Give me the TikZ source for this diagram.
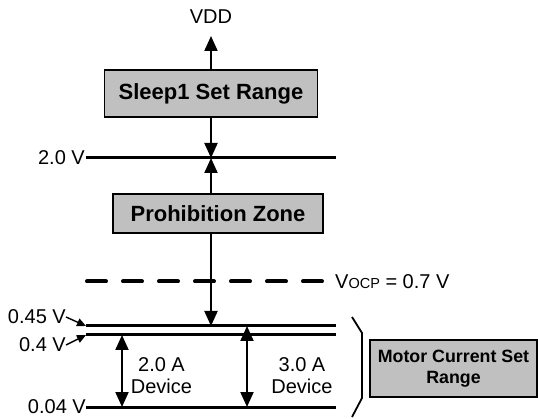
\documentclass[tikz,border=0pt]{standalone}
\usepackage{fontspec}
\setmainfont{Liberation Sans}
\usetikzlibrary{arrows.meta}
\definecolor{boxgray}{RGB}{192,192,192}
\begin{document}
\begin{tikzpicture}[x=1pt,y=-1pt,
  txt/.style={font=\fontsize{20}{22}\selectfont, inner sep=0pt},
  box/.style={draw, line width=1.6pt, fill=boxgray, inner sep=0pt,
    font=\fontsize{22}{24}\selectfont\bfseries},
  lvl/.style={line width=3pt},
  arr/.style={line width=2pt, -{Triangle[length=15pt,width=13pt]}},
  darr/.style={line width=2pt, {Triangle[length=15pt,width=13pt]}-{Triangle[length=15pt,width=13pt]}},
  sarr/.style={line width=1.4pt, -{Triangle[length=9pt,width=8pt]}},
  dashlvl/.style={line width=4pt, line cap=round, dash pattern=on 19pt off 17pt}
]
\useasboundingbox (0,0) rectangle (538,419);

% boxes
\node[box, minimum width=213pt, minimum height=47pt] (sleep) at (211,93.5) {Sleep1 Set Range};
\node[box, minimum width=210pt, minimum height=39pt] (pz) at (218,213.5) {Prohibition Zone};
\node[box, minimum width=167pt, minimum height=57pt, align=center,
  font=\fontsize{17.8}{21}\selectfont\bfseries] (motor) at (453.5,368.5) {Motor Current Set\\Range};

% texts
\node[txt] (vdd) at (211,17) {VDD};
\coordinate (vddtip) at (211,36);

% level lines
\coordinate (l20a) at (86,158);  \coordinate (l20b) at (336,158);
\coordinate (l45a) at (86,326);  \coordinate (l45b) at (336,326);
\coordinate (l40a) at (86,335);  \coordinate (l40b) at (336,335);
\coordinate (l04a) at (86,407);  \coordinate (l04b) at (336,407);
\coordinate (dsa) at (87,281.5); \coordinate (dsb) at (323,281.5);

\draw[lvl] (l20a) -- (l20b);
\draw[lvl] (l45a) -- (l45b);
\draw[lvl] (l40a) -- (l40b);
\draw[lvl] (l04a) -- (l04b);
\draw[dashlvl] (dsa) -- (dsb);

% level labels
\node[txt, anchor=east] (v20) at (85,158) {2.0 V};
\node[txt, anchor=east] (v45) at (66,317) {0.45 V};
\node[txt, anchor=east] (v40) at (66,345) {0.4 V};
\node[txt, anchor=east] (v04) at (86,407) {0.04 V};
\node[txt, anchor=west] (vocp) at (335,281.5) {V{\fontsize{14.5}{16}\selectfont OCP} = 0.7 V};

\draw[sarr] (v45.east) -- (l45a);
\draw[sarr] (v40.east) -- (l40a);

% main arrows
\coordinate (t20) at (211,158);
\coordinate (t45) at (211,326);
\draw[arr] (sleep.north) -- (vddtip);
\draw[arr] (sleep.south) -- (t20);
\draw[arr] (pz.north -| t20) -- (t20);
\draw[arr] (pz.south -| t45) -- (t45);

% device ranges
\coordinate (a2t) at (122,335); \coordinate (a2b) at (122,407);
\coordinate (a3t) at (247,326); \coordinate (a3b) at (247,407);
\draw[darr] (a2t) -- (a2b);
\draw[darr] (a3t) -- (a3b);
\node[txt, align=center] (d2) at (161.5,376) {2.0 A\\Device};
\node[txt, align=center] (d3) at (302,376) {3.0 A\\Device};

% bracket
\draw[line width=1.8pt] (352,317) -- (362,333) -- (362,398) -- (352,417);
\end{tikzpicture}
\end{document}
